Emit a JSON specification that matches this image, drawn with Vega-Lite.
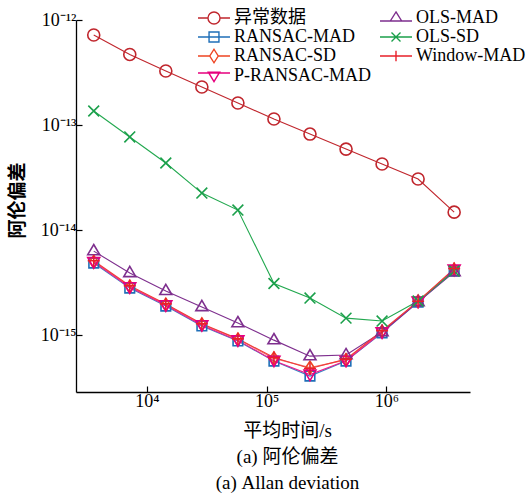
{
  "$schema": "https://vega.github.io/schema/vega-lite/v6.json",
  "width": 394,
  "height": 372,
  "autosize": {"type": "none"},
  "padding": {"left": 76, "top": 20, "right": 59, "bottom": 103},
  "background": "white",
  "config": {
    "view": {"stroke": null},
    "font": "Liberation Serif",
    "axis": {
      "grid": false,
      "domainColor": "black",
      "domainWidth": 1.3,
      "tickColor": "black",
      "tickWidth": 1.2,
      "tickSize": -6,
      "labelColor": "black",
      "labelFont": "Liberation Serif",
      "labelFontSize": 18,
      "titleColor": "black",
      "titleFontWeight": "normal"
    },
    "legend": {
      "orient": "none",
      "legendX": 128,
      "legendY": -12,
      "columns": 2,
      "padding": 0,
      "columnPadding": 5,
      "rowPadding": 0,
      "symbolSize": 324,
      "symbolStrokeWidth": 1.4,
      "labelFont": "Liberation Serif, Noto Sans CJK SC",
      "labelFontSize": 18,
      "labelColor": "black",
      "labelOffset": 10
    }
  },
  "data": {
    "values": [
      {"series": "异常数据", "tau": 3600, "adev": 7.2e-13},
      {"series": "异常数据", "tau": 7200, "adev": 4.7e-13},
      {"series": "异常数据", "tau": 14400, "adev": 3.27e-13},
      {"series": "异常数据", "tau": 28800, "adev": 2.3e-13},
      {"series": "异常数据", "tau": 57600, "adev": 1.62e-13},
      {"series": "异常数据", "tau": 115200, "adev": 1.14e-13},
      {"series": "异常数据", "tau": 230400, "adev": 8.2e-14},
      {"series": "异常数据", "tau": 460800, "adev": 5.9e-14},
      {"series": "异常数据", "tau": 921600, "adev": 4.25e-14},
      {"series": "异常数据", "tau": 1843200, "adev": 3.06e-14},
      {"series": "异常数据", "tau": 3686400, "adev": 1.48e-14},
      {"series": "RANSAC-MAD", "tau": 3600, "adev": 4.85e-15},
      {"series": "RANSAC-MAD", "tau": 7200, "adev": 2.8e-15},
      {"series": "RANSAC-MAD", "tau": 14400, "adev": 1.89e-15},
      {"series": "RANSAC-MAD", "tau": 28800, "adev": 1.22e-15},
      {"series": "RANSAC-MAD", "tau": 57600, "adev": 8.8e-16},
      {"series": "RANSAC-MAD", "tau": 115200, "adev": 5.65e-16},
      {"series": "RANSAC-MAD", "tau": 230400, "adev": 4.07e-16},
      {"series": "RANSAC-MAD", "tau": 460800, "adev": 5.65e-16},
      {"series": "RANSAC-MAD", "tau": 921600, "adev": 1.05e-15},
      {"series": "RANSAC-MAD", "tau": 1843200, "adev": 2.06e-15},
      {"series": "RANSAC-MAD", "tau": 3686400, "adev": 4.07e-15},
      {"series": "RANSAC-SD", "tau": 3600, "adev": 5.0e-15},
      {"series": "RANSAC-SD", "tau": 7200, "adev": 2.9e-15},
      {"series": "RANSAC-SD", "tau": 14400, "adev": 1.95e-15},
      {"series": "RANSAC-SD", "tau": 28800, "adev": 1.27e-15},
      {"series": "RANSAC-SD", "tau": 57600, "adev": 9.1e-16},
      {"series": "RANSAC-SD", "tau": 115200, "adev": 6.0e-16},
      {"series": "RANSAC-SD", "tau": 230400, "adev": 4.9e-16},
      {"series": "RANSAC-SD", "tau": 460800, "adev": 5.8e-16},
      {"series": "RANSAC-SD", "tau": 921600, "adev": 1.08e-15},
      {"series": "RANSAC-SD", "tau": 1843200, "adev": 2.1e-15},
      {"series": "RANSAC-SD", "tau": 3686400, "adev": 4.2e-15},
      {"series": "P-RANSAC-MAD", "tau": 3600, "adev": 4.95e-15},
      {"series": "P-RANSAC-MAD", "tau": 7200, "adev": 2.85e-15},
      {"series": "P-RANSAC-MAD", "tau": 14400, "adev": 1.92e-15},
      {"series": "P-RANSAC-MAD", "tau": 28800, "adev": 1.24e-15},
      {"series": "P-RANSAC-MAD", "tau": 57600, "adev": 8.9e-16},
      {"series": "P-RANSAC-MAD", "tau": 115200, "adev": 5.7e-16},
      {"series": "P-RANSAC-MAD", "tau": 230400, "adev": 4.2e-16},
      {"series": "P-RANSAC-MAD", "tau": 460800, "adev": 5.7e-16},
      {"series": "P-RANSAC-MAD", "tau": 921600, "adev": 1.06e-15},
      {"series": "P-RANSAC-MAD", "tau": 1843200, "adev": 2.08e-15},
      {"series": "P-RANSAC-MAD", "tau": 3686400, "adev": 4.2e-15},
      {"series": "OLS-MAD", "tau": 3600, "adev": 6.3e-15},
      {"series": "OLS-MAD", "tau": 7200, "adev": 3.9e-15},
      {"series": "OLS-MAD", "tau": 14400, "adev": 2.63e-15},
      {"series": "OLS-MAD", "tau": 28800, "adev": 1.85e-15},
      {"series": "OLS-MAD", "tau": 57600, "adev": 1.3e-15},
      {"series": "OLS-MAD", "tau": 115200, "adev": 8.95e-16},
      {"series": "OLS-MAD", "tau": 230400, "adev": 6.3e-16},
      {"series": "OLS-MAD", "tau": 460800, "adev": 6.45e-16},
      {"series": "OLS-MAD", "tau": 921600, "adev": 1.07e-15},
      {"series": "OLS-MAD", "tau": 1843200, "adev": 2.06e-15},
      {"series": "OLS-MAD", "tau": 3686400, "adev": 3.98e-15},
      {"series": "OLS-SD", "tau": 3600, "adev": 1.36e-13},
      {"series": "OLS-SD", "tau": 7200, "adev": 7.7e-14},
      {"series": "OLS-SD", "tau": 14400, "adev": 4.35e-14},
      {"series": "OLS-SD", "tau": 28800, "adev": 2.25e-14},
      {"series": "OLS-SD", "tau": 57600, "adev": 1.55e-14},
      {"series": "OLS-SD", "tau": 115200, "adev": 3.1e-15},
      {"series": "OLS-SD", "tau": 230400, "adev": 2.25e-15},
      {"series": "OLS-SD", "tau": 460800, "adev": 1.45e-15},
      {"series": "OLS-SD", "tau": 921600, "adev": 1.36e-15},
      {"series": "OLS-SD", "tau": 1843200, "adev": 2.11e-15},
      {"series": "OLS-SD", "tau": 3686400, "adev": 4.07e-15},
      {"series": "Window-MAD", "tau": 3600, "adev": 5.1e-15},
      {"series": "Window-MAD", "tau": 7200, "adev": 2.95e-15},
      {"series": "Window-MAD", "tau": 14400, "adev": 1.98e-15},
      {"series": "Window-MAD", "tau": 28800, "adev": 1.28e-15},
      {"series": "Window-MAD", "tau": 57600, "adev": 9.2e-16},
      {"series": "Window-MAD", "tau": 115200, "adev": 6.1e-16},
      {"series": "Window-MAD", "tau": 230400, "adev": 4.8e-16},
      {"series": "Window-MAD", "tau": 460800, "adev": 5.9e-16},
      {"series": "Window-MAD", "tau": 921600, "adev": 1.1e-15},
      {"series": "Window-MAD", "tau": 1843200, "adev": 2.1e-15},
      {"series": "Window-MAD", "tau": 3686400, "adev": 4.3e-15}
    ]
  },
  "encoding": {
    "x": {
      "field": "tau",
      "type": "quantitative",
      "scale": {"type": "log", "domain": [2560, 5000000], "nice": false},
      "axis": {
        "values": [10000, 100000, 1000000],
        "labelExpr": "['10⁴','10⁵','10⁶'][round(log(datum.value)/LN10)-4]",
        "labelPadding": 6,
        "title": ["平均时间/s", "(a) 阿伦偏差", "(a) Allan deviation"],
        "titleFont": "Liberation Serif, Noto Sans CJK SC",
        "titleFontSize": 19,
        "titleLineHeight": 26,
        "titleX": 211,
        "titleY": 29,
        "titleBaseline": "top",
        "titleAlign": "center"
      }
    },
    "y": {
      "field": "adev",
      "type": "quantitative",
      "scale": {"type": "log", "domain": [2.87e-16, 1e-12], "nice": false},
      "axis": {
        "values": [1e-15, 1e-14, 1e-13, 1e-12],
        "labelExpr": "'10' + ['⁻¹⁵','⁻¹⁴','⁻¹³','⁻¹²'][round(log(datum.value)/LN10)+15]",
        "labelPadding": 6,
        "title": "阿伦偏差",
        "titleFont": "Noto Sans CJK SC",
        "titleFontWeight": "bold",
        "titleFontSize": 19,
        "titleX": -49,
        "titleY": 180,
        "titleAlign": "center"
      }
    }
  },
  "layer": [
    {
      "mark": {"type": "line", "strokeWidth": 1.1},
      "encoding": {
        "color": {
          "field": "series",
          "type": "nominal",
          "scale": {
            "domain": ["异常数据", "RANSAC-MAD", "RANSAC-SD", "P-RANSAC-MAD", "OLS-MAD", "OLS-SD", "Window-MAD"],
            "range": ["#C0262D", "#3A84C6", "#F27A6E", "#EC1C8C", "#7E2F8E", "#22A84F", "#F03A3A"]
          },
          "legend": null
        },
        "detail": {"field": "series"}
      }
    },
    {
      "mark": {"type": "point", "filled": false, "strokeWidth": 1.6, "size": 144, "opacity": 1},
      "encoding": {
        "color": {
          "field": "series",
          "type": "nominal",
          "scale": {
            "domain": ["异常数据", "RANSAC-MAD", "RANSAC-SD", "P-RANSAC-MAD", "OLS-MAD", "OLS-SD", "Window-MAD"],
            "range": ["#C0262D", "#1F6FB8", "#EE4422", "#E6007E", "#7E2F8E", "#1BA04B", "#E8202A"]
          },
          "legend": null
        },
        "shape": {
          "field": "series",
          "type": "nominal",
          "scale": {
            "domain": ["异常数据", "RANSAC-MAD", "RANSAC-SD", "P-RANSAC-MAD", "OLS-MAD", "OLS-SD", "Window-MAD"],
            "range": [
              "M1,0A1,1,0,1,1,-1,0A1,1,0,1,1,1,0Z",
              "M-0.8,-0.8L0.8,-0.8L0.8,0.8L-0.8,0.8Z",
              "M0,-1.05L0.7,0L0,1.05L-0.7,0Z",
              "M-1,-0.75L1,-0.75L0,1Z",
              "M0,-1.1L1,0.6L-1,0.6Z",
              "M-0.9,-0.9L0.9,0.9M-0.9,0.9L0.9,-0.9",
              "M-1,0L1,0M0,-1L0,1"
            ]
          },
          "legend": null
        }
      }
    },
    {
      "transform": [{"filter": "false"}],
      "mark": {"type": "point", "filled": false, "strokeWidth": 1.4, "opacity": 1},
      "encoding": {
        "color": {
          "field": "series",
          "type": "nominal",
          "scale": {
            "domain": ["异常数据", "RANSAC-MAD", "RANSAC-SD", "P-RANSAC-MAD", "OLS-MAD", "OLS-SD", "Window-MAD"],
            "range": ["#C0262D", "#1F6FB8", "#EE4422", "#E6007E", "#7E2F8E", "#1BA04B", "#E8202A"]
          },
          "legend": {
            "title": null,
            "encode": {"labels": {"update": {"fontWeight": {"signal": "datum.label == '异常数据' ? 'bold' : 'normal'"}}}}
          }
        },
        "shape": {
          "field": "series",
          "type": "nominal",
          "scale": {
            "domain": ["异常数据", "RANSAC-MAD", "RANSAC-SD", "P-RANSAC-MAD", "OLS-MAD", "OLS-SD", "Window-MAD"],
            "range": [
              "M-1.78,0L-0.67,0M0.67,0L1.78,0M0.67,0A0.67,0.67,0,1,1,-0.67,0A0.67,0.67,0,1,1,0.67,0",
              "M-1.78,0L1.78,0M-0.55,-0.55L0.55,-0.55L0.55,0.55L-0.55,0.55Z",
              "M-1.78,0L-0.47,0M0.47,0L1.78,0M0,-0.75L0.47,0L0,0.75L-0.47,0Z",
              "M-1.78,-0.33L1.78,-0.33M-0.63,-0.42L0.63,-0.42L0,0.63Z",
              "M-1.78,0.33L1.78,0.33M0,-0.67L0.63,0.33L-0.63,0.33Z",
              "M-1.78,0L1.78,0M-0.5,-0.5L0.5,0.5M-0.5,0.5L0.5,-0.5",
              "M-1.78,0L1.78,0M0,-0.58L0,0.58"
            ]
          },
          "legend": {
            "title": null,
            "encode": {"labels": {"update": {"fontWeight": {"signal": "datum.label == '异常数据' ? 'bold' : 'normal'"}}}}
          }
        }
      }
    }
  ],
  "resolve": {"scale": {"color": "independent", "shape": "independent"}}
}
